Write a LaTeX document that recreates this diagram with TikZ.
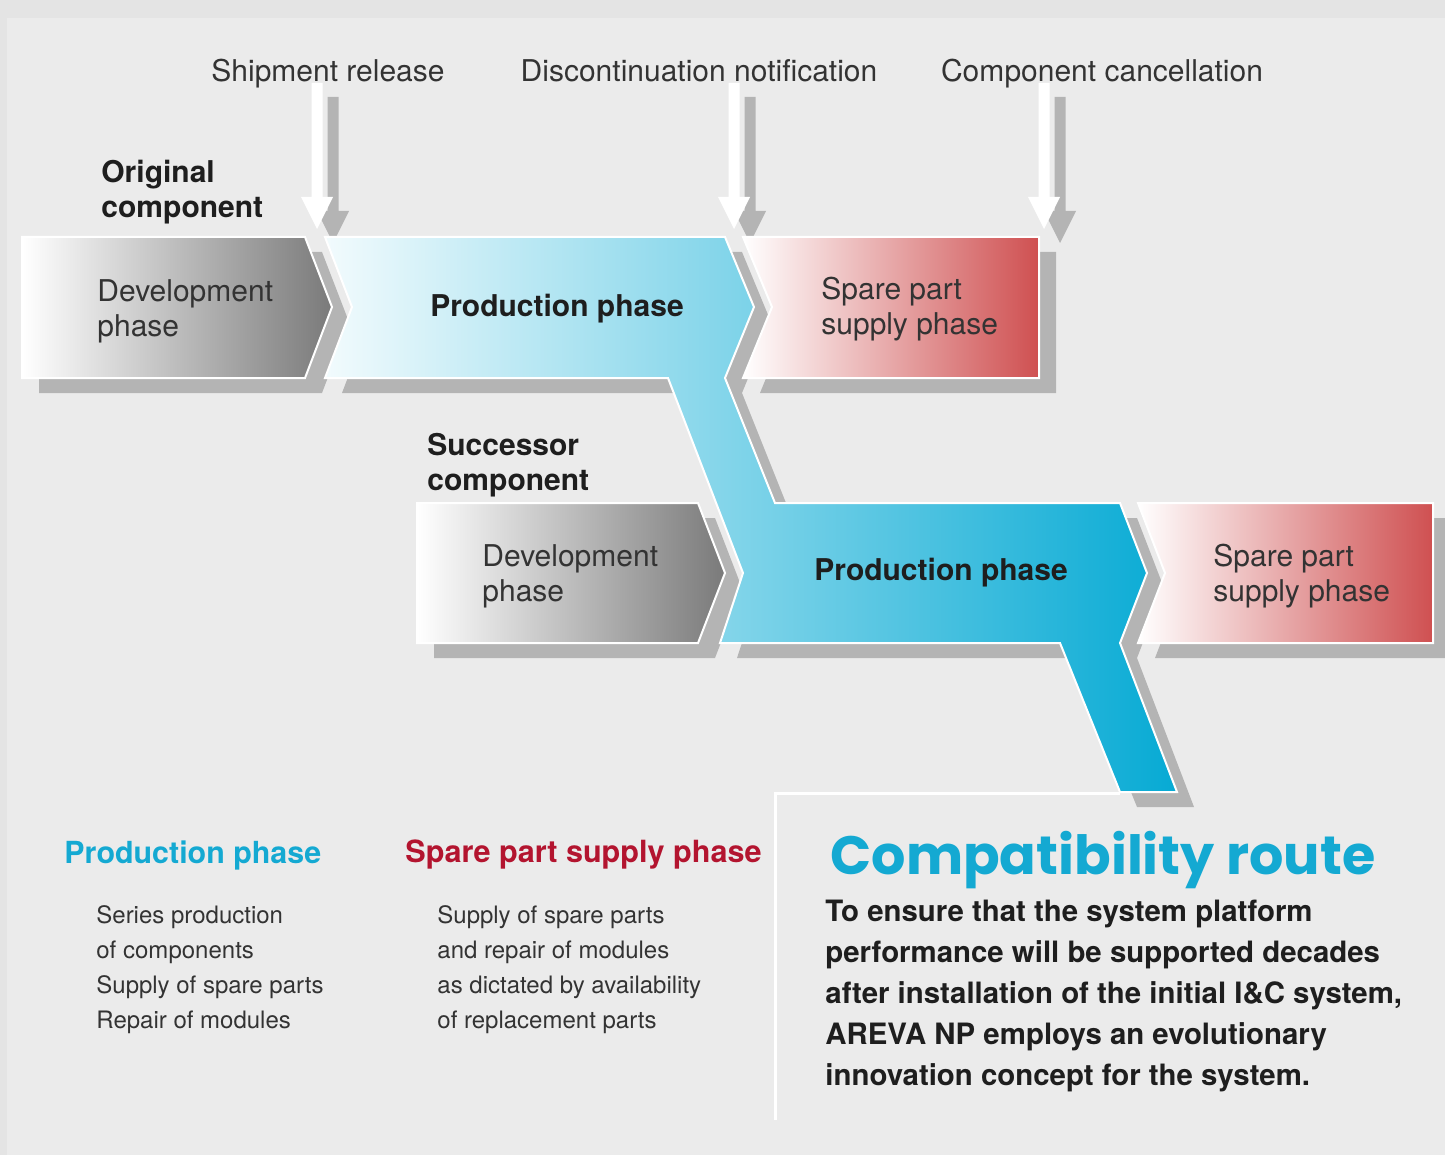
\documentclass[tikz,border=0pt]{standalone}
\usepackage{fontspec}
\setmainfont{TeX Gyre Heros}
\newfontfamily\titlefont{Poppins}
\definecolor{bgout}{HTML}{E4E4E4}
\definecolor{bgin}{HTML}{EBEBEB}
\definecolor{shadowgray}{HTML}{B4B4B4}
\definecolor{devgray}{HTML}{7A7A7A}
\definecolor{devmid}{HTML}{BDBDBD}
\definecolor{bluel}{HTML}{F2FBFD}
\definecolor{bluem}{HTML}{5EC9E4}
\definecolor{bluer}{HTML}{06AAD4}
\definecolor{redr}{HTML}{CF5051}
\definecolor{txtgray}{HTML}{333333}
\definecolor{txtdark}{HTML}{1E1E1E}
\definecolor{cyantxt}{HTML}{14A9D2}
\definecolor{crimson}{HTML}{B3142F}
\tikzset{
  blockarrow/.pic={\fill[pic actions] (-5.5,0) -- (5.5,0) -- (5.5,114) -- (16,114) -- (0,146) -- (-16,114) -- (-5.5,114) -- cycle;},
  devshape/.style={draw=white,line width=1pt,left color=white,middle color=devmid,right color=devgray},
  blueshape/.style={draw=white,line width=1pt,left color=bluel,middle color=bluem,right color=bluer},
  redshape/.style={draw=white,line width=1pt,left color=white,right color=redr},
  lbl/.style={inner sep=0pt,text=txtgray,anchor=base,font=\fontsize{15}{17.5}\selectfont},
  boldlbl/.style={inner sep=0pt,text=txtdark,align=left,font=\bfseries\fontsize{15}{17.5}\selectfont},
  phasetxt/.style={inner sep=0pt,text=txtgray,align=left,font=\fontsize{15}{17.5}\selectfont},
  listtxt/.style={inner sep=0pt,text=txtgray,align=left,font=\fontsize{12}{17.5}\selectfont},
}
\begin{document}
\begin{tikzpicture}[x=0.5pt,y=-0.5pt]
% background
\fill[bgout] (0,0) rectangle (1445,1155);
\fill[bgin] (7,18) rectangle (1445,1155);
\useasboundingbox (0,0) rectangle (1445,1155);

% ---- shadows
\begin{scope}[shift={(17,15)}]
  \fill[shadowgray] (22,237) -- (305,237) -- (332,307) -- (305,378) -- (22,378) -- cycle;
  \fill[shadowgray] (743,237) -- (1039,237) -- (1039,378) -- (743,378) -- (772,307) -- cycle;
  \fill[shadowgray] (417,503) -- (698,503) -- (725,573) -- (698,643) -- (417,643) -- cycle;
  \fill[shadowgray] (1138,503) -- (1433,503) -- (1433,643) -- (1138,643) -- (1165,573) -- cycle;
  \fill[shadowgray] (325,237) -- (725,237) -- (754,307) -- (725,378) -- (775,503) -- (1120,503)
     -- (1147,573) -- (1120,643) -- (1177,792) -- (1120,792) -- (1060,643) -- (720,643)
     -- (743,573) -- (668,378) -- (325,378) -- (352,307) -- cycle;
\end{scope}

% ---- event arrows (gray shadow, then white)
\pic[fill=shadowgray] at (333,97) {blockarrow};
\pic[fill=white] at (317,83) {blockarrow};
\pic[fill=shadowgray] at (750,97) {blockarrow};
\pic[fill=white] at (734,83) {blockarrow};
\pic[fill=shadowgray] at (1060,97) {blockarrow};
\pic[fill=white] at (1044,83) {blockarrow};

% ---- phase shapes
\path[devshape] (22,237) -- (305,237) -- (332,307) -- (305,378) -- (22,378) -- cycle;
\path[devshape] (417,503) -- (698,503) -- (725,573) -- (698,643) -- (417,643) -- cycle;
\path[blueshape] (325,237) -- (725,237) -- (754,307) -- (725,378) -- (775,503) -- (1120,503)
     -- (1147,573) -- (1120,643) -- (1177,792) -- (1120,792) -- (1060,643) -- (720,643)
     -- (743,573) -- (668,378) -- (325,378) -- (352,307) -- cycle;
\path[redshape] (743,237) -- (1039,237) -- (1039,378) -- (743,378) -- (772,307) -- cycle;
\path[redshape] (1138,503) -- (1433,503) -- (1433,643) -- (1138,643) -- (1165,573) -- cycle;

% white frame of the text panel
\coordinate (panelbot) at (775,1120);
\coordinate (panelcorner) at (775,793);
\coordinate (panelend) at (1120,793);
\draw[white,line width=1.5pt] (panelbot) -- (panelcorner) -- (panelend);

% ---- event labels
\node[lbl] (ship) at (328,82) {Shipment release};
\node[lbl] (disc) at (699,82) {Discontinuation notification};
\node[lbl] (canc) at (1102,82) {Component cancellation};

% ---- component labels
\node[boldlbl,anchor=west] (orig) at (101,192.5) {Original\\component};
\node[boldlbl,anchor=west] (succ) at (427,465.5) {Successor\\component};

% ---- phase labels
\node[phasetxt,anchor=west] (dev1) at (97,311.5) {Development\\phase};
\node[boldlbl,anchor=center] (prod1) at (557,309) {Production phase};
\node[phasetxt,anchor=west] (spare1) at (821,309.5) {Spare part\\supply phase};
\node[phasetxt,anchor=west] (dev2) at (482,576.5) {Development\\phase};
\node[boldlbl,anchor=center] (prod2) at (941,573) {Production phase};
\node[phasetxt,anchor=west] (spare2) at (1213,576.5) {Spare part\\supply phase};

% ---- legend
\node[inner sep=0pt,anchor=west,text=cyantxt,font=\bfseries\fontsize{15.2}{17.5}\selectfont] (lgprod) at (64,855) {Production phase};
\node[inner sep=0pt,anchor=west,text=crimson,font=\bfseries\fontsize{15.3}{17.5}\selectfont] (lgspare) at (405,855) {Spare part supply phase};
\node[listtxt,anchor=west] (lgprodtxt) at (96,969.5) {Series production\\of components\\Supply of spare parts\\Repair of modules};
\node[listtxt,anchor=west] (lgsparetxt) at (437,969.5) {Supply of spare parts\\and repair of modules\\as dictated by availability\\of replacement parts};

% ---- compatibility route panel
\node[inner sep=0pt,text=cyantxt,font=\titlefont\bfseries\fontsize{27}{30}\selectfont] (title) at (1103,860) {Compatibility route};
\node[inner sep=0pt,anchor=west,align=left,text=txtdark,font=\bfseries\fontsize{14.7}{20.5}\selectfont] (para) at (825,996)
  {To ensure that the system platform\\performance will be supported decades\\after installation of the initial I\&C system,\\AREVA NP employs an evolutionary\\innovation concept for the system.};
\end{tikzpicture}
\end{document}
